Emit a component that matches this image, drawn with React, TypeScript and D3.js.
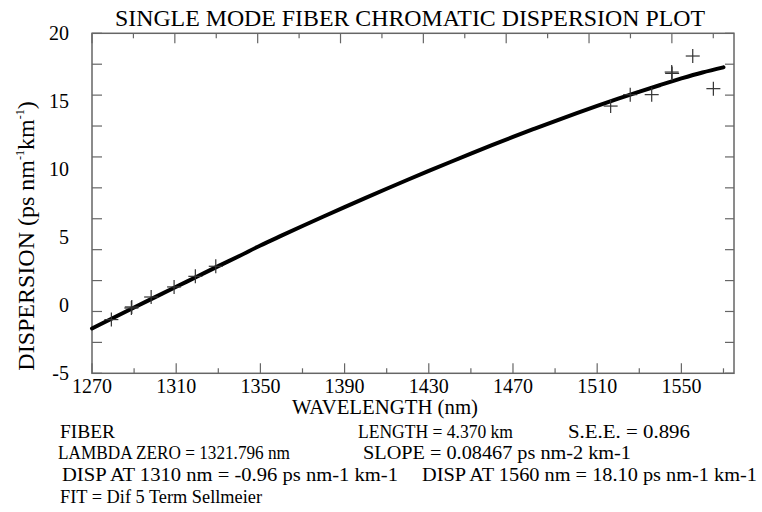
import React from "react";
import * as d3 from "d3";

// ---- data ----
const curveWavelengths = [1270, 1280, 1290, 1300, 1310, 1320, 1330, 1340, 1350, 1360, 1370, 1380, 1390, 1400, 1410, 1420, 1430, 1440, 1450, 1460, 1470, 1480, 1490, 1500, 1510, 1520, 1530, 1540, 1550, 1560, 1570];
const curveDispersion = [-1.7, -0.93, -0.16, 0.6, 1.36, 2.12, 2.88, 3.63, 4.4, 5.12, 5.83, 6.53, 7.22, 7.9, 8.57, 9.23, 9.88, 10.52, 11.15, 11.77, 12.38, 12.97, 13.55, 14.11, 14.66, 15.19, 15.7, 16.2, 16.68, 17.12, 17.5];

const measWavelengths = [1279.2, 1288.7, 1288.9, 1298.1, 1309, 1319.1, 1328.8, 1516.4, 1525.7, 1535.9, 1545.4, 1545.6, 1555.4, 1565.2];
const measDispersion = [-1.05, -0.2, -0.12, 0.61, 1.35, 2.13, 2.87, 14.65, 15.49, 15.49, 17.15, 17.05, 18.33, 15.93];

const xTickLabels = [1270, 1310, 1350, 1390, 1430, 1470, 1510, 1550];
const yTickLabels = [20, 15, 10, 5, 0, -5];

const title = "SINGLE MODE FIBER CHROMATIC DISPERSION PLOT";
const xTitle = "WAVELENGTH (nm)";
const footer = [
  { text: "FIBER", x: 60, y: 438, w: 55 },
  { text: "LENGTH = 4.370 km", x: 358, y: 438, w: 155 },
  { text: "S.E.E. = 0.896", x: 568, y: 438, w: 122 },
  { text: "LAMBDA ZERO = 1321.796 nm", x: 58, y: 459, w: 232 },
  { text: "SLOPE = 0.08467 ps nm-2 km-1", x: 363, y: 459, w: 268 },
  { text: "DISP AT 1310 nm = -0.96 ps nm-1 km-1", x: 62, y: 481, w: 336 },
  { text: "DISP AT 1560 nm = 18.10 ps nm-1 km-1", x: 422, y: 481, w: 335 },
  { text: "FIT = Dif 5 Term Sellmeier", x: 60, y: 503, w: 202 },
];

const FONT = "Liberation Serif, Times New Roman, Times, serif";

export default function App() {
  const L = 92, R = 734, T = 33.3, B = 373.3;
  const x = d3.scaleLinear().domain([1270, 1575]).range([L, R]);
  const xTop = d3.scaleLinear().domain([1270, 1580]).range([L, R]);
  const y = d3.scaleLinear().domain([-5, 20]).range([B, T]);
  const yTick = d3.scaleLinear().domain([-5, 22.5]).range([B, T]);

  const curve = curveWavelengths.map((w, i) => [w, curveDispersion[i]] as [number, number]);
  const line = d3.line<[number, number]>().x(d => x(d[0])).y(d => y(d[1])).curve(d3.curveMonotoneX);

  const bottomTicks = d3.range(1270, 1576, 20);
  const topTicks = d3.range(1270, 1581, 20);
  const sideTicks = d3.range(-5, 22.6, 2.5);

  const axisColor = "#666";
  const ts = { fontFamily: FONT, fill: "#000" } as React.CSSProperties;

  return (
    <svg width={762} height={512} style={{ position: "absolute", left: 0, top: 0, background: "#fff", fontFamily: FONT }}>
      <rect x={0} y={0} width={762} height={512} fill="#fff" />
      <text x={115} y={26} style={ts} fontSize={24} textLength={590} lengthAdjust="spacingAndGlyphs">{title}</text>

      {/* frame */}
      <rect x={L} y={T} width={R - L} height={B - T} fill="none" stroke={axisColor} strokeWidth={1.5} />

      {bottomTicks.map((t, i) => (
        <line key={"b" + t} x1={x(t)} x2={x(t)} y1={B} y2={B - (i % 2 === 0 ? 10 : 5)} stroke={axisColor} strokeWidth={1.2} />
      ))}
      {topTicks.map((t, i) => (
        <line key={"t" + t} x1={xTop(t)} x2={xTop(t)} y1={T} y2={T + (i % 2 === 0 ? 10 : 5)} stroke={axisColor} strokeWidth={1.2} />
      ))}
      {sideTicks.map((t) => (
        <g key={"s" + t}>
          <line x1={L} x2={L + 10} y1={yTick(t)} y2={yTick(t)} stroke={axisColor} strokeWidth={1.2} />
          <line x1={R} x2={R - 9} y1={yTick(t)} y2={yTick(t)} stroke={axisColor} strokeWidth={1.2} />
        </g>
      ))}

      {xTickLabels.map(t => (
        <text key={"xl" + t} x={x(t)} y={393} textAnchor="middle" style={ts} fontSize={20}>{t}</text>
      ))}
      {yTickLabels.map(t => (
        <text key={"yl" + t} x={69} y={y(t)} dy="0.35em" textAnchor="end" style={ts} fontSize={20}>{t}</text>
      ))}

      <text x={292} y={414} style={ts} fontSize={21} textLength={186} lengthAdjust="spacingAndGlyphs">{xTitle}</text>

      <text transform={`translate(34, 236) rotate(-90)`} textAnchor="middle" style={ts} fontSize={24}>
        DISPERSION (ps nm<tspan fontSize={12} dy={-10}>-1</tspan><tspan dy={10}>km</tspan><tspan fontSize={12} dy={-10}>-1</tspan><tspan dy={10}>)</tspan>
      </text>

      {/* fit curve */}
      <path d={line(curve) || ""} fill="none" stroke="#000" strokeWidth={4} strokeLinecap="round" />

      {/* measured points */}
      {measWavelengths.map((w, i) => (
        <g key={"m" + i} stroke="#333" strokeWidth={1.2}>
          <line x1={x(w) - 7} x2={x(w) + 7} y1={y(measDispersion[i])} y2={y(measDispersion[i])} />
          <line x1={x(w)} x2={x(w)} y1={y(measDispersion[i]) - 7} y2={y(measDispersion[i]) + 7} />
        </g>
      ))}

      {footer.map((f, i) => (
        <text key={"f" + i} x={f.x} y={f.y} style={ts} fontSize={19} textLength={f.w} lengthAdjust="spacingAndGlyphs">{f.text}</text>
      ))}
    </svg>
  );
}
